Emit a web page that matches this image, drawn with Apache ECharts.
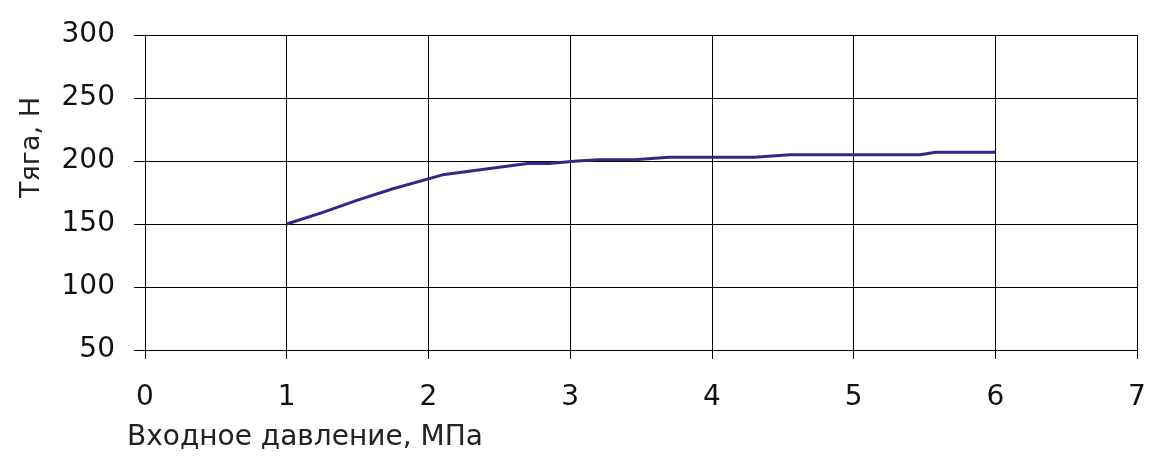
<!DOCTYPE html>
<html>
<head>
<meta charset="utf-8">
<script src="https://cdn.jsdelivr.net/npm/echarts@6/dist/echarts.min.js"></script>
<style>
  html, body { margin: 0; padding: 0; background: #fff; }
  #chart { width: 1171px; height: 462px; }
</style>
</head>
<body>
<div id="chart"></div>
<script>
// входное давление, МПа
const pressure = [1, 1.25, 1.5, 1.75, 2.1, 2.7, 2.85, 3.05, 3.2, 3.45, 3.7, 4.3, 4.55, 5.47, 5.58, 6];
// тяга, Н
const thrust = [150, 159, 169, 178, 189, 198, 198, 200, 201, 201, 203, 203, 205, 205, 207, 207];

const xTitle = 'Входное давление, МПа';
const yTitle = 'Тяга, Н';

const font = 'DejaVu Sans, Liberation Sans, sans-serif';

const myChart = echarts.init(document.getElementById('chart'));
const option = {
  animation: false,
  backgroundColor: '#fff',
  grid: { left: 145, right: 34, top: 35, bottom: 112 },
  xAxis: {
    type: 'value',
    min: 0,
    max: 7,
    interval: 1,
    name: xTitle,
    nameLocation: 'start',
    nameGap: 18,
    nameTextStyle: {
      fontFamily: font, fontSize: 28, color: '#222',
      align: 'left', verticalAlign: 'top', padding: [74, 0, 0, 0]
    },
    axisLine: { show: true, onZero: false, lineStyle: { color: '#000', width: 1 } },
    axisTick: { show: true, length: 9, lineStyle: { color: '#000' } },
    axisLabel: { fontFamily: font, fontSize: 28, color: '#111', margin: 34 },
    splitLine: { show: true, lineStyle: { color: '#000', width: 1 } }
  },
  yAxis: {
    type: 'value',
    min: 50,
    max: 300,
    interval: 50,
    name: yTitle,
    nameLocation: 'middle',
    nameGap: 100,
    nameTextStyle: {
      fontFamily: font, fontSize: 27, color: '#222',
      padding: [0, 0, 0, 90]
    },
    axisLine: { show: true, lineStyle: { color: '#000', width: 1 } },
    axisTick: { show: true, length: 11, lineStyle: { color: '#000' } },
    axisLabel: { fontFamily: font, fontSize: 28, color: '#111', margin: 30 },
    splitLine: { show: true, lineStyle: { color: '#000', width: 1 } }
  },
  series: [
    {
      type: 'line',
      data: pressure.map((p, i) => [p, thrust[i]]),
      showSymbol: false,
      lineStyle: { color: '#2f2a86', width: 3 }
    }
  ]
};
myChart.setOption(option);
</script>
</body>
</html>
